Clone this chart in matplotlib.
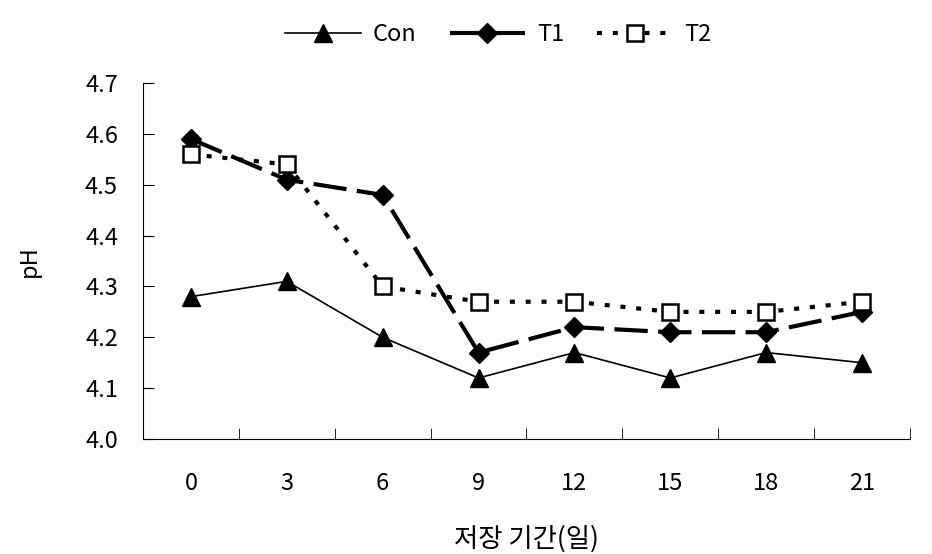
import numpy as np
import matplotlib.pyplot as plt

plt.rcParams['font.family'] = ['Noto Sans CJK KR', 'DejaVu Sans']

days = ['0', '3', '6', '9', '12', '15', '18', '21']
con = [4.28, 4.31, 4.20, 4.12, 4.17, 4.12, 4.17, 4.15]
t1 = [4.59, 4.51, 4.48, 4.17, 4.22, 4.21, 4.21, 4.25]
t2 = [4.56, 4.54, 4.30, 4.27, 4.27, 4.25, 4.25, 4.27]

fig = plt.figure(figsize=(9.32, 5.54), dpi=100)
ax = fig.add_axes([0.1534, 0.2076, 0.8230, 0.6424])

x = np.arange(len(days))
ax.plot(x, con, color='black', lw=1.2, marker='^', ms=13, label='Con')
ax.plot(x, t1, color='black', lw=3, dashes=(8, 2.5), marker='D', ms=10, label='T1')
ax.plot(x, t2, color='black', lw=3, dashes=(1.2, 2.6), marker='s', ms=12,
        markerfacecolor='white', markeredgewidth=1.8, label='T2')

ax.set_xlim(-0.5, len(days) - 0.5)
ax.set_ylim(4.0, 4.7)
ax.set_yticks(np.arange(4.0, 4.71, 0.1))
ax.set_yticklabels(['%.1f' % v for v in np.arange(4.0, 4.71, 0.1)])
ax.set_xticks(x)
ax.set_xticklabels(days)
ax.set_xticks(np.arange(0.5, len(days), 1), minor=True)
ax.tick_params(axis='x', which='major', length=0, pad=24, labelsize=17)
ax.tick_params(axis='x', which='minor', direction='in', length=8)
ax.tick_params(axis='y', direction='in', length=8, pad=18, labelsize=17)

for s in ['top', 'right']:
    ax.spines[s].set_visible(False)

ax.set_ylabel('pH', fontsize=17, labelpad=32)
ax.set_xlabel('저장 기간(일)', fontsize=19, labelpad=22)

fig.legend(loc='center', bbox_to_anchor=(0.535, 0.937), ncol=3, frameon=False,
           fontsize=17, handlelength=3.2, handletextpad=0.5, columnspacing=1.4)

fig.savefig('out.png')
